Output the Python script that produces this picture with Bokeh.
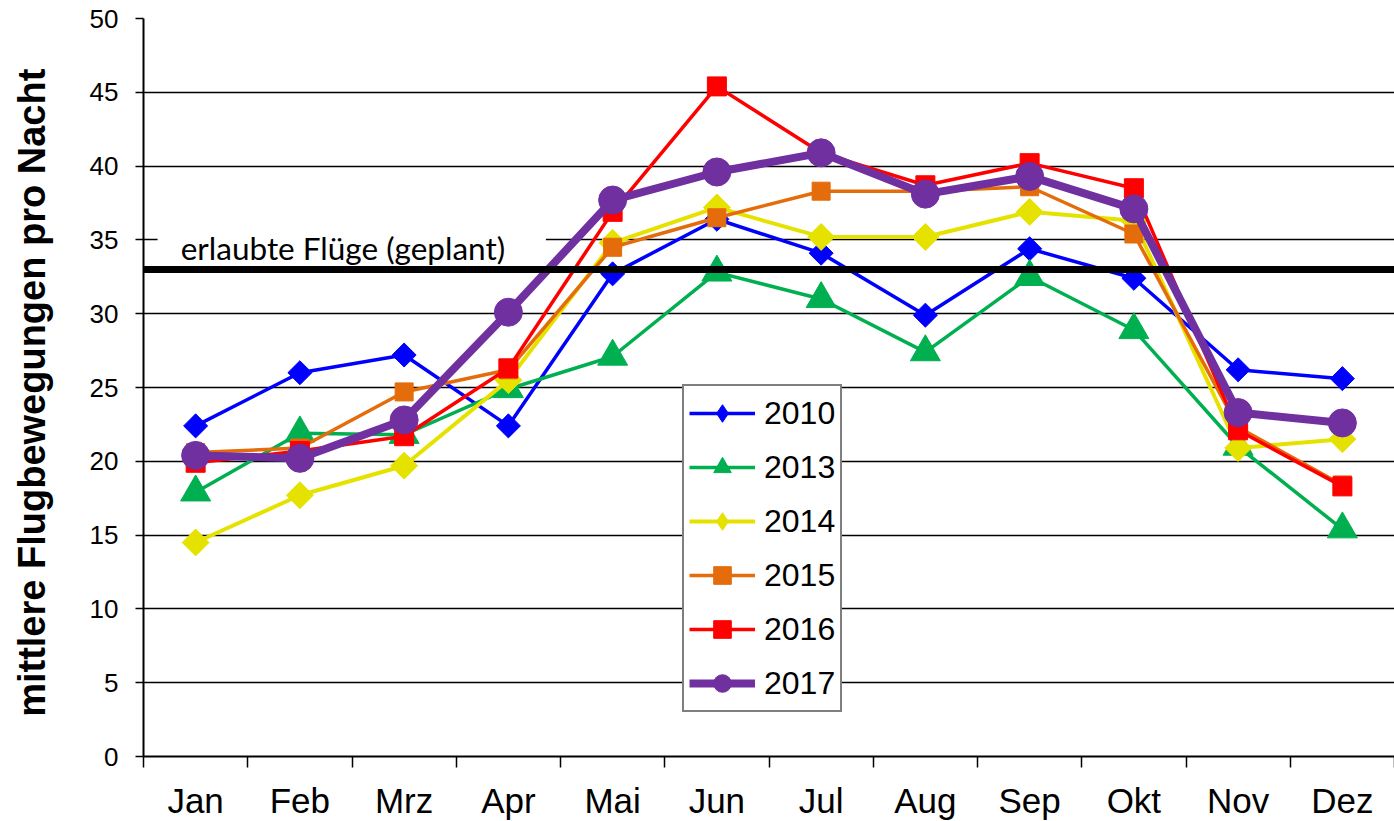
import math
from bokeh.plotting import figure
from bokeh.models import Range1d, FixedTicker, Span, Label, BoxAnnotation, Legend, LegendItem
from bokeh.embed import file_html
from bokeh.resources import INLINE

months = ["Jan", "Feb", "Mrz", "Apr", "Mai", "Jun", "Jul", "Aug", "Sep", "Okt", "Nov", "Dez"]
y2010 = [22.4, 26.0, 27.2, 22.4, 32.7, 36.4, 34.1, 29.9, 34.4, 32.4, 26.2, 25.6]
y2013 = [17.9, 21.9, 21.8, 24.9, 27.1, 32.8, 31.0, 27.4, 32.5, 28.9, 21.0, 15.4]
y2014 = [14.5, 17.7, 19.7, 25.5, 34.8, 37.2, 35.2, 35.2, 36.9, 36.3, 20.9, 21.5]
y2015 = [20.6, 20.9, 24.7, 26.2, 34.5, 36.5, 38.3, 38.3, 38.6, 35.4, 22.3, 18.4]
y2016 = [19.9, 20.7, 21.7, 26.3, 36.9, 45.4, 40.9, 38.7, 40.2, 38.5, 22.1, 18.3]
y2017 = [20.4, 20.2, 22.8, 30.1, 37.7, 39.6, 40.9, 38.1, 39.3, 37.1, 23.3, 22.6]
years = ["2010", "2013", "2014", "2015", "2016", "2017"]
allowed = 33
allowed_label = "erlaubte Flüge (geplant)"
y_title = "mittlere  Flugbewegungen pro Nacht"
y_ticks = [0, 5, 10, 15, 20, 25, 30, 35, 40, 45, 50]

xs = list(range(len(months)))
nan = float("nan")

p = figure(frame_width=1251, frame_height=738, output_backend="svg", toolbar_location=None,
           x_range=Range1d(-0.5, len(months) - 0.5), y_range=Range1d(0, 50),
           min_border_left=143, min_border_right=0, min_border_top=18, min_border_bottom=65)
p.outline_line_color = None
p.background_fill_color = "white"

# grid
p.xgrid.grid_line_color = None
p.ygrid.grid_line_color = "black"
p.ygrid.grid_line_width = 1.5
p.ygrid.ticker = FixedTicker(ticks=y_ticks)

# y axis
p.yaxis.ticker = FixedTicker(ticks=y_ticks)
p.yaxis.axis_line_color = "black"
p.yaxis.axis_line_width = 2
p.yaxis.major_tick_in = 0
p.yaxis.major_tick_out = 8
p.yaxis.major_tick_line_width = 1.5
p.yaxis.minor_tick_line_color = None
p.yaxis.major_label_text_font = "Liberation Sans"
p.yaxis.major_label_text_font_size = "26px"
p.yaxis.major_label_text_color = "black"
p.yaxis.major_label_standoff = 17
p.yaxis.axis_label = y_title
p.yaxis.axis_label_text_font = "Liberation Sans"
p.yaxis.axis_label_text_font_style = "bold"
p.yaxis.axis_label_text_font_size = "38px"
p.yaxis.axis_label_text_color = "black"
p.yaxis.axis_label_standoff = 34

# x axis: labels at centres, tick marks at boundaries
p.xaxis.ticker = FixedTicker(ticks=xs, minor_ticks=[i - 0.5 for i in range(len(months) + 1)])
p.xaxis.major_label_overrides = {i: m for i, m in enumerate(months)}
p.xaxis.axis_line_color = "black"
p.xaxis.axis_line_width = 2
p.xaxis.major_tick_in = 0
p.xaxis.major_tick_out = 0
p.xaxis.minor_tick_in = 0
p.xaxis.minor_tick_out = 11
p.xaxis.minor_tick_line_color = "black"
p.xaxis.minor_tick_line_width = 1.5
p.xaxis.major_label_text_font = "Liberation Sans"
p.xaxis.major_label_text_font_size = "35px"
p.xaxis.major_label_text_color = "black"
p.xaxis.major_label_standoff = 13

# annotation: white box behind label, label, thick line
box = BoxAnnotation(left=-0.365, right=3.36, bottom=34.0, top=36.0,
                    fill_color="white", fill_alpha=1.0, line_color=None)
p.add_layout(box)
p.add_layout(Label(x=-0.143, y=35, y_offset=-8, text=allowed_label, text_font="Lato",
                   text_font_size="31.5px", text_color="black", text_baseline="middle"))
p.add_layout(Span(location=allowed, dimension="width", line_color="black", line_width=7))

series = [
    (y2010, "#0000FF", 3.5, "square", 17, math.pi / 4, "diamond"),
    (y2013, "#00B050", 3.5, "triangle", 30, 0, "triangle"),
    (y2014, "#E6E200", 4, "square", 19, math.pi / 4, "diamond"),
    (y2015, "#E46C0A", 3.5, "square", 18, 0, "square"),
    (y2016, "#FF0000", 3.5, "square", 19, 0, "square"),
    (y2017, "#7030A0", 8, "circle", 28, 0, "circle"),
]

items = []
for (ys, color, lw, marker, size, ang, leg_marker), yr in zip(series, years):
    r1 = p.line(xs, ys, line_color=color, line_width=lw)
    p.scatter(xs, ys, marker=marker, size=size, angle=ang,
              fill_color=color, line_color=color)
    # legend glyph (marker shown unrotated in the key)
    r3 = p.scatter([nan], [nan], marker=leg_marker, size=size,
                   fill_color=color, line_color=color)
    items.append(LegendItem(label=yr, renderers=[r1, r3]))

legend = Legend(items=items, location=(539, 44), orientation="vertical",
                border_line_color="black", border_line_width=2,
                background_fill_color="white", background_fill_alpha=1.0,
                label_text_font="Liberation Sans", label_text_font_size="32px",
                label_text_color="black", glyph_width=66, glyph_height=44,
                label_height=44, spacing=10, padding=5, margin=0, label_standoff=9)
p.add_layout(legend)

open("out.html", "w").write(file_html(p, INLINE))
